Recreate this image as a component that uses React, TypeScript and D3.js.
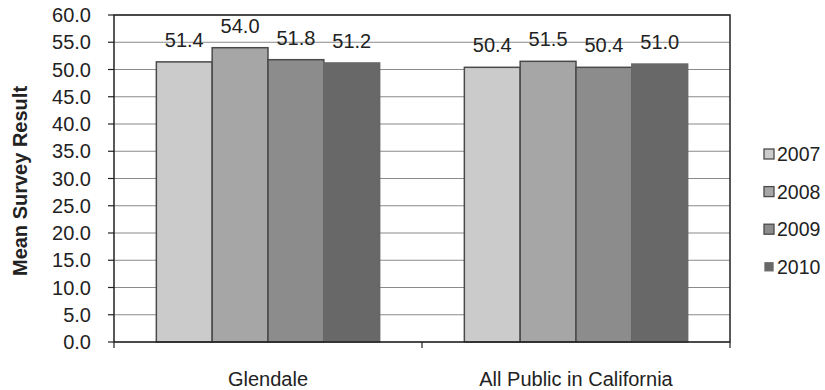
import React from "react";
import * as d3 from "d3";

const categories = ["Glendale", "All Public in California"];
const years = ["2007", "2008", "2009", "2010"];
const glendale = [51.4, 54.0, 51.8, 51.2];
const california = [50.4, 51.5, 50.4, 51.0];
const seriesByCategory = [glendale, california];
const yTicks = [0, 5, 10, 15, 20, 25, 30, 35, 40, 45, 50, 55, 60];
const colors = ["#cbcbcb", "#a6a6a6", "#8c8c8c", "#686868"];
const strokes = ["#4a4a4a", "#4a4a4a", "#4a4a4a", "#686868"];

const W = 825;
const H = 390;
const m = { left: 114, right: 730, top: 15, bottom: 342 };
const font = "Arial, 'Liberation Sans', Helvetica, sans-serif";

export default function App() {
  const y = d3.scaleLinear().domain([0, 60]).range([m.bottom, m.top]);
  const x0 = d3.scaleBand().domain(categories).range([m.left, m.right]).paddingInner(0).paddingOuter(0);
  const groupW = x0.bandwidth() * 0.725;
  const x1 = d3.scaleBand().domain(years).range([0, groupW]).padding(0);

  return (
    <svg width={W} height={H} style={{ position: "absolute", left: 0, top: 0, background: "#fff" }} fontFamily={font}>
      <rect x={0} y={0} width={W} height={H} fill="#fff" />
      {yTicks.map((t) => (
        <g key={t}>
          <line x1={m.left} x2={m.right} y1={y(t)} y2={y(t)} stroke="#8a8a8a" strokeWidth={1.2} />
          <line x1={m.left - 6} x2={m.left} y1={y(t)} y2={y(t)} stroke="#222" strokeWidth={1.2} />
          <text x={91} y={y(t)} dy="0.36em" textAnchor="end" fontSize={20} fill="#222">
            {t.toFixed(1)}
          </text>
        </g>
      ))}
      {categories.map((c, ci) => {
        const gx = (x0(c) as number) + (x0.bandwidth() - groupW) / 2;
        return (
          <g key={c}>
            {years.map((yr, i) => {
              const v = seriesByCategory[ci][i];
              const bx = gx + (x1(yr) as number);
              return (
                <g key={yr}>
                  <rect
                    x={bx}
                    y={y(v)}
                    width={x1.bandwidth()}
                    height={m.bottom - y(v)}
                    fill={colors[i]}
                    stroke={strokes[i]}
                    strokeWidth={1.5}
                  />
                  <text x={bx + x1.bandwidth() / 2} y={y(v) - 15} textAnchor="middle" fontSize={20} fill="#222">
                    {v.toFixed(1)}
                  </text>
                </g>
              );
            })}
            <text x={(x0(c) as number) + x0.bandwidth() / 2} y={386} textAnchor="middle" fontSize={20} fill="#222">
              {c}
            </text>
          </g>
        );
      })}
      <rect x={m.left} y={m.top} width={m.right - m.left} height={m.bottom - m.top} fill="none" stroke="#222" strokeWidth={1.5} />
      {[m.left, m.left + x0.bandwidth(), m.right].map((tx, i) => (
        <line key={i} x1={tx} x2={tx} y1={m.bottom} y2={m.bottom + 6} stroke="#222" strokeWidth={1.2} />
      ))}
      <text
        transform={`translate(27, 181) rotate(-90)`}
        textAnchor="middle"
        fontSize={20}
        fontWeight="bold"
        fill="#222"
      >
        Mean Survey Result
      </text>
      {years.map((yr, i) => {
        const cy = 154 + i * 37.6;
        const s = i === 3 ? 8 : 10;
        return (
          <g key={yr}>
            <rect x={769 - s / 2} y={cy - s / 2} width={s} height={s} fill={colors[i]} stroke={strokes[i]} strokeWidth={1.3} />
            <text x={777} y={cy} dy="0.36em" fontSize={19.5} fill="#222">
              {yr}
            </text>
          </g>
        );
      })}
    </svg>
  );
}
